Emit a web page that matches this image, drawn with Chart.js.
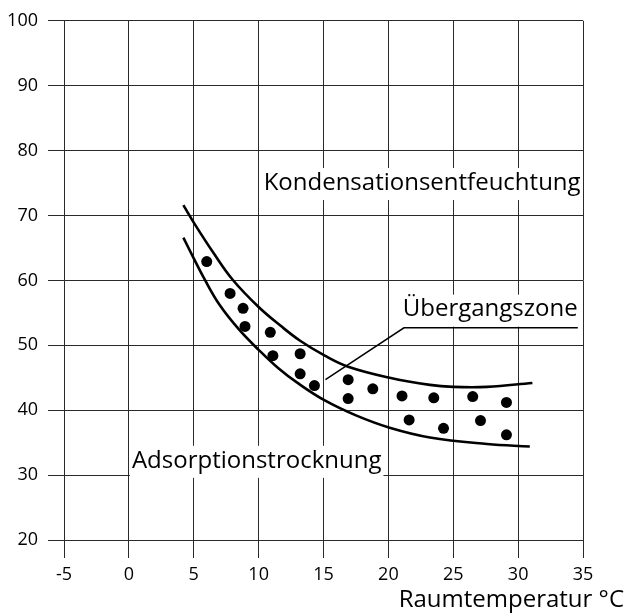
<!DOCTYPE html>
<html>
<head>
<meta charset="utf-8">
<script src="https://cdn.jsdelivr.net/npm/chart.js@4/dist/chart.umd.min.js"></script>
<style>
  html, body { margin: 0; padding: 0; background: #fff; }
  #wrap { width: 628px; height: 615px; }
</style>
</head>
<body>
<div id="wrap"><canvas id="c" width="628" height="615"></canvas></div>
<script>
// ---- data ----
const xTickValues = [-5, 0, 5, 10, 15, 20, 25, 30, 35];
const yTickValues = [20, 30, 40, 50, 60, 70, 80, 90, 100];

// upper boundary (Kondensationsentfeuchtung / Übergangszone)
const upperX = [4.2, 5.1, 6.5, 8.0, 10.0, 11.7, 13.2, 15.1, 16.9, 20.1, 23.2, 25.0, 27.6, 31.1];
const upperY = [71.6, 68.6, 64.3, 60.1, 55.9, 53.0, 50.7, 48.4, 46.7, 45.0, 43.9, 43.6, 43.6, 44.2];

// lower boundary (Übergangszone / Adsorptionstrocknung)
const lowerX = [4.2, 5.0, 5.8, 7.0, 8.5, 10.0, 11.5, 13.0, 15.1, 17.5, 20.1, 23.2, 27.6, 30.9];
const lowerY = [66.6, 63.4, 60.3, 56.2, 52.4, 49.3, 46.5, 44.2, 41.5, 39.2, 37.3, 35.8, 34.8, 34.4];

// measured points inside the transition zone
const dotX = [6.0, 7.8, 8.8, 8.95, 10.9, 11.1, 13.2, 13.2, 14.3, 16.9, 16.9, 18.8, 21.05, 21.6, 23.5, 24.25, 26.5, 27.1, 29.1, 29.1];
const dotY = [62.9, 58.0, 55.7, 52.9, 52.0, 48.4, 48.7, 45.6, 43.8, 44.7, 41.8, 43.3, 42.2, 38.5, 41.9, 37.2, 42.1, 38.4, 41.2, 36.2];

// leader line from the zone to its label
const leaderX = [15.15, 21.2, 34.6];
const leaderY = [44.7, 52.7, 52.7];

// text labels
const zoneLabels = ['Kondensationsentfeuchtung', 'Übergangszone', 'Adsorptionstrocknung'];
const zoneLabelX = [22.6, 27.85, 9.85];
const zoneLabelY = [75.0, 55.5, 32.2];
const xAxisTitle = 'Raumtemperatur °C';

const FONT = '"Open Sans", "Noto Sans", sans-serif';
const INK = '#000';
const GRID = '#2a2a2a';

const toPts = (xs, ys) => xs.map((x, i) => ({ x: x, y: ys[i] }));

const labelPlugin = {
  id: 'zoneLabels',
  afterDatasetsDraw(chart) {
    const ctx = chart.ctx;
    const xs = chart.scales.x, ys = chart.scales.y;
    ctx.save();
    ctx.font = '24px ' + FONT;
    ctx.textAlign = 'center';
    ctx.textBaseline = 'middle';
    zoneLabels.forEach((t, i) => {
      const px = xs.getPixelForValue(zoneLabelX[i]);
      const py = ys.getPixelForValue(zoneLabelY[i]);
      const w = ctx.measureText(t).width;
      ctx.fillStyle = '#fff';
      ctx.fillRect(px - w / 2 - 2, py - 15, w + 4, 32);
      ctx.fillStyle = INK;
      ctx.fillText(t, px, py);
    });
    // x axis title
    ctx.font = '24px ' + FONT;
    ctx.textAlign = 'right';
    ctx.textBaseline = 'middle';
    ctx.fillStyle = INK;
    ctx.fillText(xAxisTitle, 624, 600);
    ctx.restore();
  }
};

new Chart(document.getElementById('c'), {
  type: 'scatter',
  data: {
    datasets: [
      { data: toPts(upperX, upperY), showLine: true, borderColor: INK, borderWidth: 2.6,
        pointRadius: 0, tension: 0.4, fill: false },
      { data: toPts(lowerX, lowerY), showLine: true, borderColor: INK, borderWidth: 2.6,
        pointRadius: 0, tension: 0.4, fill: false },
      { data: toPts(leaderX, leaderY), showLine: true, borderColor: INK, borderWidth: 1.5,
        pointRadius: 0, tension: 0, fill: false },
      { data: toPts(dotX, dotY), showLine: false, pointRadius: 5.5, pointHoverRadius: 5.5,
        pointBackgroundColor: INK, pointBorderColor: INK, pointBorderWidth: 0 }
    ]
  },
  options: {
    responsive: false,
    animation: false,
    devicePixelRatio: 1,
    layout: { padding: { left: 0, top: 19, right: 45, bottom: 0 } },
    plugins: { legend: { display: false }, tooltip: { enabled: false } },
    scales: {
      x: {
        type: 'linear', min: -5, max: 35,
        afterBuildTicks: (s) => { s.ticks = xTickValues.map(v => ({ value: v })); },
        afterFit: (s) => { s.height = 75; },
        grid: { color: GRID, lineWidth: 1, tickLength: 18, drawTicks: true },
        border: { color: GRID, width: 1 },
        ticks: { color: INK, font: { family: FONT, size: 18 }, padding: 6, maxRotation: 0 }
      },
      y: {
        type: 'linear', min: 20, max: 100,
        afterBuildTicks: (s) => { s.ticks = yTickValues.map(v => ({ value: v })); },
        afterFit: (s) => { s.width = 64; },
        grid: { color: GRID, lineWidth: 1, tickLength: 16, drawTicks: true },
        border: { color: GRID, width: 1 },
        ticks: { color: INK, font: { family: FONT, size: 18 }, padding: 10 }
      }
    }
  },
  plugins: [labelPlugin]
});
</script>
</body>
</html>
